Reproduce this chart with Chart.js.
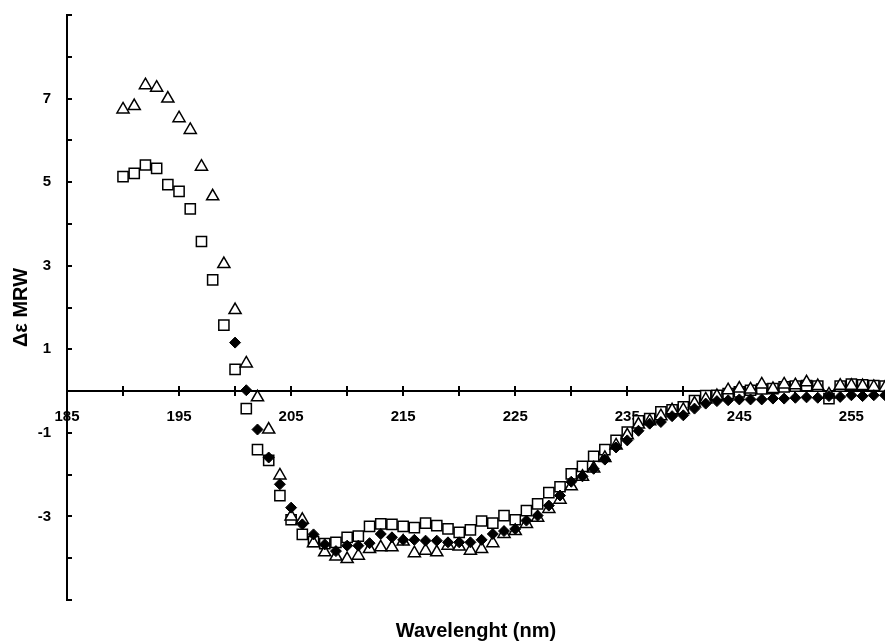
<!DOCTYPE html>
<html>
<head>
<meta charset="utf-8">
<script src="https://cdn.jsdelivr.net/npm/chart.js@4/dist/chart.umd.min.js"></script>
<style>
  html, body { margin: 0; padding: 0; background: #fff; }
</style>
</head>
<body>
<canvas id="cdChart" width="885" height="641"></canvas>
<script>
  // wavelength (nm) for every reading
  const wavelengths = [
    190, 191, 192, 193, 194, 195, 196, 197, 198, 199,
    200, 201, 202, 203, 204, 205, 206, 207, 208, 209,
    210, 211, 212, 213, 214, 215, 216, 217, 218, 219,
    220, 221, 222, 223, 224, 225, 226, 227, 228, 229,
    230, 231, 232, 233, 234, 235, 236, 237, 238, 239,
    240, 241, 242, 243, 244, 245, 246, 247, 248, 249,
    250, 251, 252, 253, 254, 255, 256, 257, 258
  ];

  // open squares, 190-258 nm
  const squareVals = [
    5.13, 5.21, 5.41, 5.33, 4.94, 4.78, 4.36, 3.58, 2.66, 1.58,
    0.52, -0.42, -1.40, -1.66, -2.50, -3.08, -3.43, -3.60, -3.65, -3.62,
    -3.50, -3.47, -3.24, -3.18, -3.19, -3.24, -3.27, -3.16, -3.22, -3.30,
    -3.38, -3.32, -3.11, -3.16, -2.98, -3.08, -2.86, -2.70, -2.43, -2.29,
    -1.98, -1.80, -1.56, -1.40, -1.18, -0.98, -0.71, -0.66, -0.50, -0.45,
    -0.38, -0.23, -0.11, -0.10, -0.06, -0.02, 0.02, 0.05, 0.06, 0.10,
    0.12, 0.13, 0.12, -0.18, 0.12, 0.17, 0.15, 0.13, 0.12
  ];

  // open triangles, 190-258 nm
  const triangleVals = [
    6.74, 6.82, 7.32, 7.26, 7.00, 6.53, 6.25, 5.37, 4.66, 3.04,
    1.94, 0.66, -0.15, -0.92, -2.02, -3.00, -3.08, -3.64, -3.86, -3.96,
    -4.02, -3.94, -3.78, -3.74, -3.74, -3.60, -3.88, -3.82, -3.86, -3.70,
    -3.72, -3.82, -3.78, -3.64, -3.42, -3.35, -3.18, -3.03, -2.82, -2.60,
    -2.28, -2.05, -1.85, -1.60, -1.30, -1.06, -0.80, -0.72, -0.60, -0.46,
    -0.45, -0.30, -0.20, -0.12, 0.02, 0.06, 0.04, 0.16, 0.05, 0.16,
    0.14, 0.21, 0.12, -0.08, 0.13, 0.13, 0.12, 0.10, 0.08
  ];

  // filled diamonds, 200-258 nm
  const diamondVals = [
    1.16, 0.02, -0.92, -1.59, -2.23, -2.79, -3.19, -3.43, -3.67, -3.83,
    -3.70, -3.70, -3.64, -3.42, -3.50, -3.56, -3.56, -3.58, -3.58, -3.62,
    -3.62, -3.62, -3.56, -3.42, -3.35, -3.30, -3.10, -2.98, -2.74, -2.50,
    -2.17, -2.04, -1.86, -1.64, -1.35, -1.18, -0.95, -0.78, -0.74, -0.60,
    -0.58, -0.42, -0.30, -0.24, -0.22, -0.20, -0.20, -0.20, -0.18, -0.18,
    -0.16, -0.15, -0.16, -0.12, -0.14, -0.10, -0.12, -0.10, -0.10
  ];
  const diamondStart = wavelengths.indexOf(200);

  const xLabelled = [185, 195, 205, 215, 225, 235, 245, 255];
  const yLabelled = [7, 5, 3, 1, -1, -3];

  const FONT = "'Liberation Sans', Arial, sans-serif";

  function toPoints(vals, offset) {
    return vals.map((v, i) => ({ x: wavelengths[i + offset], y: v }));
  }

  // tick marks: crossing on the x axis, inward on the y axis
  const tickMarks = {
    id: 'tickMarks',
    beforeDatasetsDraw(chart) {
      const { ctx, scales: { x, y }, chartArea } = chart;
      const y0 = y.getPixelForValue(0);
      ctx.save();
      ctx.strokeStyle = '#000';
      ctx.lineWidth = 2;
      ctx.beginPath();
      x.ticks.forEach((t) => {
        const px = Math.round(x.getPixelForValue(t.value));
        ctx.moveTo(px, y0 - 5);
        ctx.lineTo(px, y0 + 5);
      });
      y.ticks.forEach((t) => {
        const py = Math.round(y.getPixelForValue(t.value));
        ctx.moveTo(chartArea.left - 1, py);
        ctx.lineTo(chartArea.left + 5, py);
      });
      ctx.stroke();
      ctx.restore();
    }
  };

  new Chart(document.getElementById('cdChart'), {
    type: 'scatter',
    data: {
      datasets: [
        {
          label: 'diamonds',
          data: toPoints(diamondVals, diamondStart),
          pointStyle: 'rectRot',
          pointRadius: 5.5,
          backgroundColor: '#000',
          borderColor: '#000',
          borderWidth: 1
        },
        {
          label: 'triangles',
          data: toPoints(triangleVals, 0),
          pointStyle: 'triangle',
          pointRadius: 7,
          backgroundColor: '#fff',
          borderColor: '#000',
          borderWidth: 1.5
        },
        {
          label: 'squares',
          data: toPoints(squareVals, 0),
          pointStyle: 'rect',
          pointRadius: 7.2,
          backgroundColor: '#fff',
          borderColor: '#000',
          borderWidth: 1.5
        }
      ]
    },
    options: {
      responsive: false,
      animation: false,
      devicePixelRatio: 1,
      layout: { autoPadding: false, padding: { top: 15, right: 0, bottom: 0, left: 0 } },
      plugins: {
        legend: { display: false },
        tooltip: { enabled: false },
        title: {
          display: true,
          text: 'Wavelenght (nm)',
          position: 'bottom',
          fullSize: false,
          color: '#000',
          font: { family: FONT, size: 20, weight: 'bold', lineHeight: 1 },
          padding: { top: 21, bottom: 0 }
        }
      },
      scales: {
        x: {
          type: 'linear',
          position: { y: 0 },
          min: 185,
          max: 258,
          afterFit: (scale) => { scale.paddingLeft = 0; scale.paddingRight = 0; },
          grid: { display: true, drawOnChartArea: false, drawTicks: false },
          border: { display: true, color: '#000', width: 2 },
          ticks: {
            stepSize: 5,
            includeBounds: false,
            autoSkip: false,
            maxRotation: 0,
            padding: 17,
            color: '#000',
            font: { family: FONT, size: 15, weight: 'bold' },
            callback: (v) => (xLabelled.includes(v) ? String(v) : '')
          }
        },
        y: {
          type: 'linear',
          position: 'left',
          min: -5,
          max: 9,
          afterFit: (scale) => {
            scale.width = 67;
            scale.paddingTop = 0;
            scale.paddingBottom = 0;
          },
          grid: { display: true, drawOnChartArea: false, drawTicks: false },
          border: { display: true, color: '#000', width: 2 },
          title: {
            display: true,
            text: 'Δε MRW',
            color: '#000',
            font: { family: FONT, size: 20, weight: 'bold', lineHeight: 1 },
            padding: { top: 11, bottom: 0 }
          },
          ticks: {
            stepSize: 1,
            autoSkip: false,
            padding: 16,
            color: '#000',
            font: { family: FONT, size: 15, weight: 'bold' },
            callback: (v) => (yLabelled.includes(v) ? String(v) : '')
          }
        }
      }
    },
    plugins: [tickMarks]
  });
</script>
</body>
</html>
